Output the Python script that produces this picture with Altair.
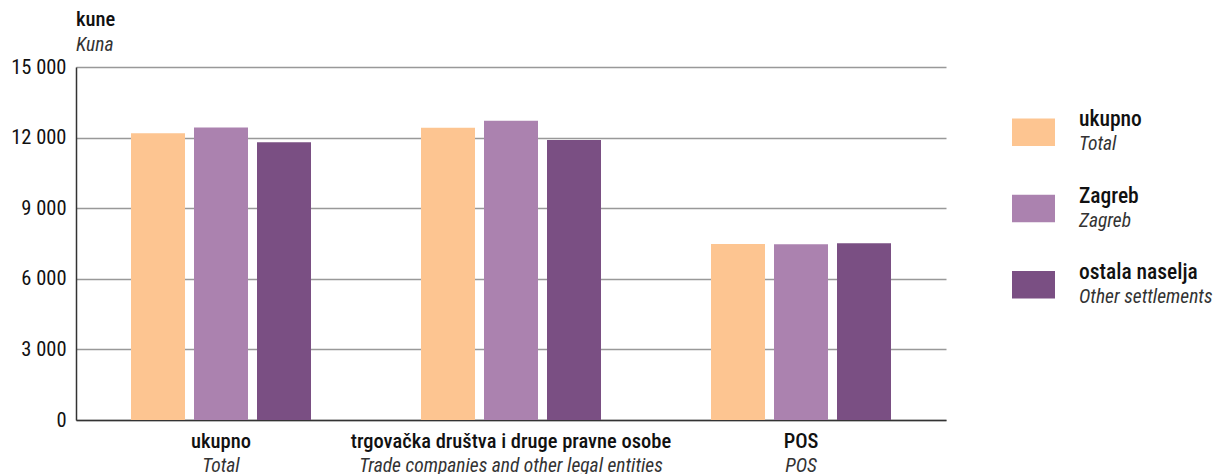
import altair as alt
import pandas as pd

# Average price per m2 of new dwellings sold, by investor type
categories = ["ukupno", "trgovačka društva i druge pravne osobe", "POS"]
categories_en = ["Total", "Trade companies and other legal entities", "POS"]
series = ["ukupno", "Zagreb", "ostala naselja"]
series_en = ["Total", "Zagreb", "Other settlements"]
colors = ["#FDC591", "#AB82AF", "#7A4F83"]

val_total = [12180, 12420, 7480]
val_zagreb = [12430, 12720, 7470]
val_other = [11800, 11900, 7510]

FONT = "Roboto Condensed, DejaVu Sans Condensed, Roboto, sans-serif"
HR_SIZE = 20.5
EN_SIZE = 19.5
HR_WEIGHT = 500

rows = []
for i, cat in enumerate(categories):
    for s, vals in zip(series, [val_total, val_zagreb, val_other]):
        rows.append({"category": cat, "series": s, "value": vals[i]})
bars_df = pd.DataFrame(rows)
cats_df = pd.DataFrame({"category": categories, "en": categories_en})
legend_df = pd.DataFrame({"series": series, "en": series_en})

W, H = 870, 353

x_scale = alt.Scale(domain=categories, paddingInner=0, paddingOuter=0)
y_scale = alt.Scale(domain=[0, 15000], nice=False)
color_scale = alt.Scale(domain=series, range=colors)

bars = alt.Chart(bars_df).mark_bar().encode(
    x=alt.X("category:N", sort=categories, scale=x_scale,
            axis=alt.Axis(labels=False, ticks=False, title=None,
                          domainColor="#333333", domainWidth=1.5, grid=False)),
    xOffset=alt.XOffset("series:N", sort=series,
                        scale=alt.Scale(domain=series, paddingInner=0.143, paddingOuter=0.873)),
    y=alt.Y("value:Q", scale=y_scale,
            axis=alt.Axis(values=[0, 3000, 6000, 9000, 12000, 15000], title=None,
                          labelExpr="datum.value >= 1000 ? floor(datum.value / 1000) + ' 000' : '0'",
                          labelFont=FONT, labelFontSize=20.5, labelColor="#111111",
                          labelPadding=10, ticks=False, grid=True,
                          gridColor="#999999", gridWidth=1.3,
                          domainColor="#333333", domainWidth=1.5)),
    color=alt.Color("series:N", scale=color_scale, legend=None),
)

xlab_hr = alt.Chart(cats_df).mark_text(
    font=FONT, fontSize=HR_SIZE, fontWeight=HR_WEIGHT, color="#111111", baseline="middle"
).encode(
    x=alt.X("category:N", sort=categories, scale=x_scale, bandPosition=0.5),
    y=alt.value(H + 22),
    text="category:N",
)
xlab_en = alt.Chart(cats_df).mark_text(
    font=FONT, fontSize=EN_SIZE, fontStyle="italic", color="#333333", baseline="middle"
).encode(
    x=alt.X("category:N", sort=categories, scale=x_scale, bandPosition=0.5),
    y=alt.value(H + 46),
    text="en:N",
)

ytitle_hr = alt.Chart(pd.DataFrame({"t": ["kune"]})).mark_text(
    font=FONT, fontSize=HR_SIZE, fontWeight=HR_WEIGHT, color="#111111", align="left", baseline="middle"
).encode(x=alt.value(0), y=alt.value(-47), text="t:N")
ytitle_en = alt.Chart(pd.DataFrame({"t": ["Kuna"]})).mark_text(
    font=FONT, fontSize=EN_SIZE, fontStyle="italic", color="#333333", align="left", baseline="middle"
).encode(x=alt.value(0), y=alt.value(-22), text="t:N")

main = alt.layer(bars, xlab_hr, xlab_en, ytitle_hr, ytitle_en)

# Two-line legend on the right
leg_y = alt.Scale(domain=series, range=[51.5, 231.5], paddingInner=0.64, paddingOuter=0)
leg_rect = alt.Chart(legend_df).mark_bar().encode(
    x=alt.value(936), x2=alt.value(979),
    y=alt.Y("series:N", sort=series, scale=leg_y, axis=None),
    color=alt.Color("series:N", scale=color_scale, legend=None),
)
leg_hr = alt.Chart(legend_df).mark_text(
    font=FONT, fontSize=HR_SIZE + 1, fontWeight=HR_WEIGHT, color="#111111", align="left", baseline="middle", dy=-12
).encode(
    x=alt.value(1003),
    y=alt.Y("series:N", sort=series, scale=leg_y, axis=None, bandPosition=0.5),
    text="series:N",
)
leg_en = alt.Chart(legend_df).mark_text(
    font=FONT, fontSize=EN_SIZE, fontStyle="italic", color="#333333", align="left", baseline="middle", dy=12
).encode(
    x=alt.value(1003),
    y=alt.Y("series:N", sort=series, scale=leg_y, axis=None, bandPosition=0.5),
    text="en:N",
)
legend = alt.layer(leg_rect, leg_hr, leg_en)

chart = alt.layer(main, legend).resolve_scale(
    y="independent", x="independent", color="shared"
).properties(
    width=W, height=H,
    autosize=alt.AutoSizeParams(type="none"),
    padding={"left": 76, "top": 67, "right": 269, "bottom": 54},
    background="white",
).configure_view(stroke=None)

chart.save("out.html", embed_options={"renderer": "svg", "actions": False})
